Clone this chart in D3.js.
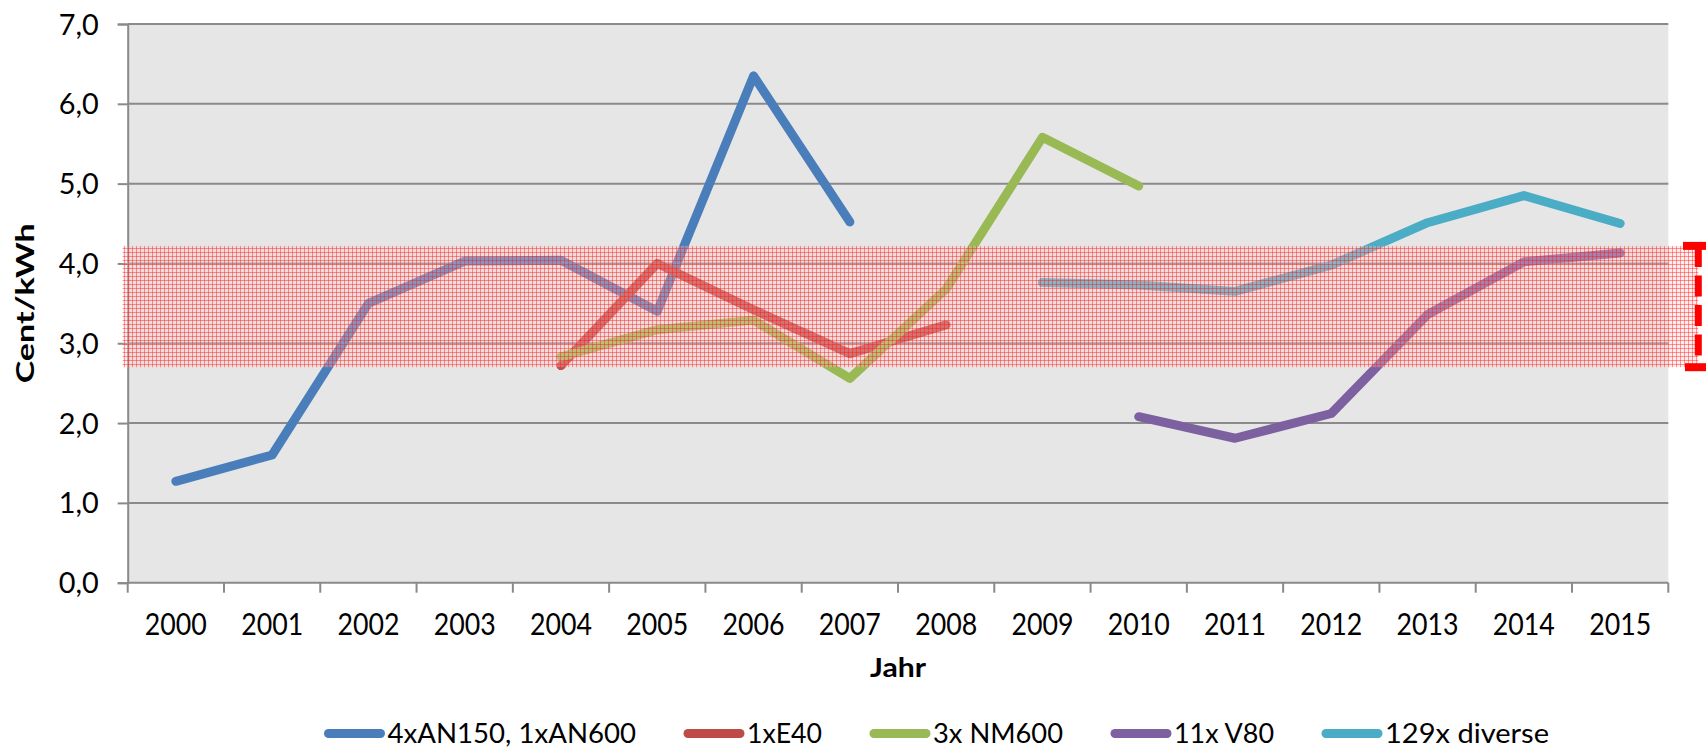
<!DOCTYPE html>
<html><head><meta charset="utf-8">
<script src="https://cdn.jsdelivr.net/npm/d3@7"></script>
<style>
html,body{margin:0;padding:0;background:#fff;}
svg{display:block;font-family:Lato,"Open Sans",sans-serif;}
</style></head><body>
<svg id="chart" width="1706" height="748"></svg>
<script>
// Jahre (Kategorien)
const years = ["2000","2001","2002","2003","2004","2005","2006","2007","2008","2009","2010","2011","2012","2013","2014","2015"];

// Stromgestehungskosten je Anlagengruppe, Cent/kWh (null = keine Daten)
const an150Values  = [1.27, 1.60, 3.50, 4.03, 4.04, 3.40, 6.35, 4.52, null, null, null, null, null, null, null, null];
const e40Values    = [null, null, null, null, 2.72, 4.00, 3.42, 2.87, 3.23, null, null, null, null, null, null, null];
const nm600Values  = [null, null, null, null, 2.83, 3.17, 3.29, 2.56, 3.68, 5.58, 4.97, null, null, null, null, null];
const v80Values    = [null, null, null, null, null, null, null, null, null, null, 2.08, 1.81, 2.12, 3.36, 4.02, 4.13];
const diverseValues= [null, null, null, null, null, null, null, null, null, 3.76, 3.73, 3.65, 3.98, 4.51, 4.85, 4.50];

const seriesNames  = ["4xAN150, 1xAN600", "1xE40", "3x NM600", "11x V80", "129x diverse"];
const seriesValues = [an150Values, e40Values, nm600Values, v80Values, diverseValues];
const seriesColors = ["#4A7EBB", "#BE4B48", "#98B954", "#7D60A0", "#4BACC6"];

// Achsenbeschriftung
const yTicks = [0, 1, 2, 3, 4, 5, 6, 7];
const yTitle = "Cent/kWh";
const xTitle = "Jahr";

// markierter Kostenkorridor (Cent/kWh)
const corridorLow = 2.70;
const corridorHigh = 4.22;

// ---- Layout ----
const svg = d3.select("#chart");
const plot = {left: 127.7, right: 1668.3, top: 24, bottom: 582.7};
const gridColor = "#8a8a8a";
const legendStart = 324.5;
const legendTextWidths = [248.5, 75, 130, 100, 164];

const x = d3.scaleBand().domain(years).range([plot.left, plot.right]).padding(0);
const y = d3.scaleLinear().domain([0, 7]).range([plot.bottom, plot.top]);
const cx = i => x(years[i]) + x.bandwidth() / 2;

// Zeichenfläche
svg.append("rect")
  .attr("x", plot.left).attr("y", plot.top)
  .attr("width", plot.right - plot.left).attr("height", plot.bottom - plot.top)
  .attr("fill", "#e6e6e6");

// Gitterlinien
svg.append("g").selectAll("line")
  .data(yTicks.filter(v => v > 0))
  .join("line")
  .attr("x1", plot.left).attr("x2", plot.right)
  .attr("y1", d => y(d)).attr("y2", d => y(d))
  .attr("stroke", gridColor).attr("stroke-width", 2);

// y-Achse
const yAxis = svg.append("g")
  .attr("transform", `translate(${plot.left},0)`)
  .call(d3.axisLeft(y).tickValues(yTicks)
    .tickFormat(d => d3.format(".1f")(d).replace(".", ","))
    .tickSize(10).tickPadding(19));
yAxis.select(".domain").attr("stroke", gridColor).attr("stroke-width", 2);
yAxis.selectAll(".tick line").attr("stroke", gridColor).attr("stroke-width", 2);
yAxis.selectAll(".tick text")
  .attr("font-size", 28).attr("fill", "#000").attr("dy", "0.36em")
  .attr("textLength", 40).attr("lengthAdjust", "spacingAndGlyphs")
  .attr("font-family", "Lato, 'Open Sans', sans-serif");

// x-Achse: Beschriftung in Kategorienmitte, Striche an den Kategoriegrenzen
const xAxis = svg.append("g")
  .attr("transform", `translate(0,${plot.bottom})`)
  .call(d3.axisBottom(x).tickSize(0).tickPadding(0));
xAxis.select(".domain").remove();
xAxis.selectAll(".tick text")
  .attr("font-size", 30).attr("fill", "#000")
  .attr("y", 52.5).attr("dy", 0)
  .attr("textLength", 62).attr("lengthAdjust", "spacingAndGlyphs")
  .attr("font-family", "Lato, 'Open Sans', sans-serif");
const boundaries = years.map(yr => x(yr)).concat([plot.right]);
svg.append("g").selectAll("line")
  .data(boundaries)
  .join("line")
  .attr("x1", d => d).attr("x2", d => d)
  .attr("y1", plot.bottom).attr("y2", plot.bottom + 10)
  .attr("stroke", gridColor).attr("stroke-width", 2);
svg.append("line")
  .attr("x1", plot.left).attr("x2", plot.right)
  .attr("y1", plot.bottom).attr("y2", plot.bottom)
  .attr("stroke", gridColor).attr("stroke-width", 2);

// Datenreihen
const line = d3.line()
  .defined(d => d != null)
  .x((d, i) => cx(i))
  .y(d => y(d));
svg.append("g").selectAll("path")
  .data(seriesValues)
  .join("path")
  .attr("d", d => line(d))
  .attr("fill", "none")
  .attr("stroke", (d, i) => seriesColors[i])
  .attr("stroke-width", 9)
  .attr("stroke-linecap", "round")
  .attr("stroke-linejoin", "round");

// Kostenkorridor als rot gerasterte Fläche
const defs = svg.append("defs");
const pat = defs.append("pattern")
  .attr("id", "raster").attr("patternUnits", "userSpaceOnUse")
  .attr("width", 4).attr("height", 4);
pat.append("rect").attr("width", 4).attr("height", 4).attr("fill", "rgba(255,200,200,0.32)");
pat.append("rect").attr("width", 4).attr("height", 1).attr("fill", "rgba(255,20,20,0.42)");
pat.append("rect").attr("width", 1).attr("height", 4).attr("fill", "rgba(255,20,20,0.42)");

const bracketX = 1698.3;
svg.append("rect")
  .attr("x", plot.left - 5).attr("y", y(corridorHigh))
  .attr("width", bracketX - (plot.left - 5))
  .attr("height", y(corridorLow) - y(corridorHigh))
  .attr("fill", "url(#raster)");

// Klammer für den Korridor
const br = svg.append("g").attr("stroke", "#ff0000").attr("fill", "none");
br.append("line")
  .attr("x1", bracketX).attr("x2", bracketX)
  .attr("y1", y(corridorHigh)).attr("y2", y(corridorLow))
  .attr("stroke-width", 7).attr("stroke-dasharray", "21 8.5");
br.append("line")
  .attr("x1", 1683).attr("x2", 1712)
  .attr("y1", y(corridorHigh)).attr("y2", y(corridorHigh))
  .attr("stroke-width", 8);
br.append("line")
  .attr("x1", 1685).attr("x2", 1712)
  .attr("y1", y(corridorLow)).attr("y2", y(corridorLow))
  .attr("stroke-width", 8);

// Achsentitel
svg.append("text")
  .attr("transform", `translate(33.5,${(plot.top + plot.bottom) / 2}) rotate(-90)`)
  .attr("text-anchor", "middle")
  .attr("font-size", 25).attr("font-weight", "bold").attr("fill", "#000")
  .attr("textLength", 160).attr("lengthAdjust", "spacingAndGlyphs")
  .text(yTitle);
svg.append("text")
  .attr("x", (plot.left + plot.right) / 2).attr("y", 677)
  .attr("text-anchor", "middle")
  .attr("font-size", 26).attr("font-weight", "bold").attr("fill", "#000")
  .attr("textLength", 56).attr("lengthAdjust", "spacingAndGlyphs")
  .text(xTitle);

// Legende
const legend = svg.append("g");
let lx = legendStart;
seriesNames.forEach((name, i) => {
  const g = legend.append("g").attr("transform", `translate(${lx},0)`);
  g.append("line")
    .attr("x1", 4).attr("x2", 56).attr("y1", 733.5).attr("y2", 733.5)
    .attr("stroke", seriesColors[i]).attr("stroke-width", 9)
    .attr("stroke-linecap", "round");
  g.append("text")
    .attr("x", 63).attr("y", 743)
    .attr("font-size", 27).attr("fill", "#000")
    .attr("textLength", legendTextWidths[i]).attr("lengthAdjust", "spacingAndGlyphs")
    .text(name);
  lx += 63 + legendTextWidths[i] + 48;
});
</script>
</body></html>
